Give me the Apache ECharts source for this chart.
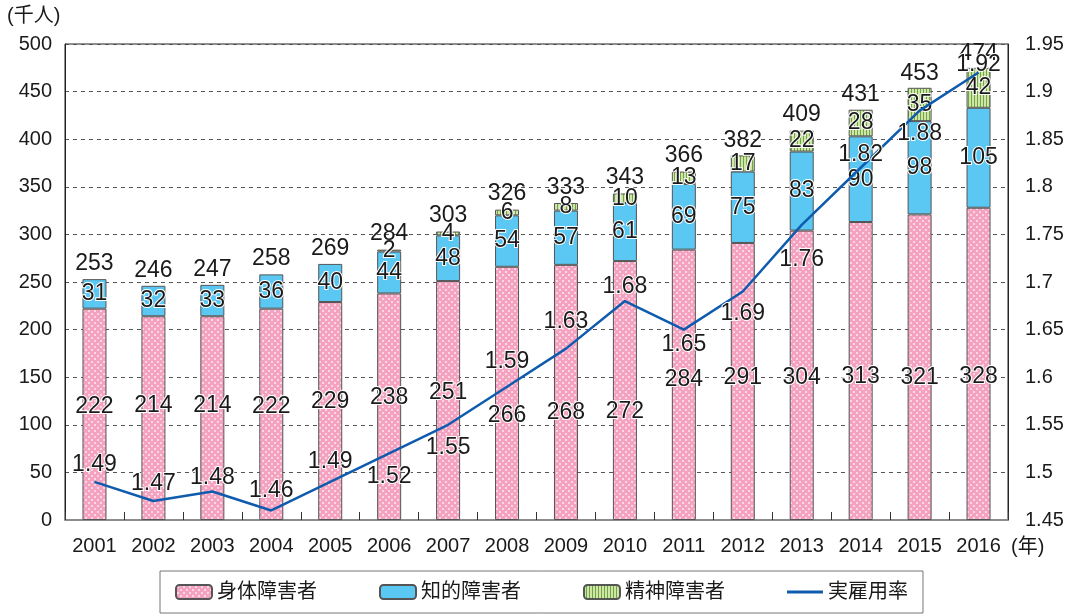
<!DOCTYPE html>
<html>
<head>
<meta charset="utf-8">
<script src="https://cdn.jsdelivr.net/npm/echarts@6/dist/echarts.min.js"></script>
<style>
  html, body { margin: 0; padding: 0; background: #fff; }
  #chart { width: 1078px; height: 615px; }
</style>
</head>
<body>
<div id="chart"></div>
<script>
// 障害者雇用の状況（千人）と実雇用率（％）
const years = ['2001','2002','2003','2004','2005','2006','2007','2008','2009','2010','2011','2012','2013','2014','2015','2016'];
const physical = [222, 214, 214, 222, 229, 238, 251, 266, 268, 272, 284, 291, 304, 313, 321, 328];
const intellectual = [31, 32, 33, 36, 40, 44, 48, 54, 57, 61, 69, 75, 83, 90, 98, 105];
const mental = [0, 0, 0, 0, 0, 2, 4, 6, 8, 10, 13, 17, 22, 28, 35, 42];
const totals = [253, 246, 247, 258, 269, 284, 303, 326, 333, 343, 366, 382, 409, 431, 453, 474];
const rate = [1.49, 1.47, 1.48, 1.46, 1.49, 1.52, 1.55, 1.59, 1.63, 1.68, 1.65, 1.69, 1.76, 1.82, 1.88, 1.92];
const leftTicks = { min: 0, max: 500, step: 50 };
const rightTicks = { min: 1.45, max: 1.95, step: 0.05 };

// vertical nudges (px) that keep value labels clear of the rate line
const rateLabelShift = [-17, -17, -14, -20, -20, 23, 23, -25, -27, -14, 15, 22, 35, -13, 23, -8];
const physicalLabelShift = [-8, -12, -12, -8, -9, -9, -8, 22, 20, 21, -5, -4, 2, 6, 10, 13];

const FONT = '"Liberation Sans", "Noto Sans CJK JP", sans-serif';
const LINE_BLUE = '#0f5cae';
const INK = '#1a1a1a';

function makeTile(w, h, paint) {
  const c = document.createElement('canvas');
  c.width = w; c.height = h;
  paint(c.getContext('2d'));
  return { image: c, repeat: 'repeat' };
}
// pink with light dots
const pinkFill = makeTile(6, 6, g => {
  g.fillStyle = '#f4a2c0'; g.fillRect(0, 0, 6, 6);
  g.fillStyle = '#fdd6e4';
  g.fillRect(1, 1, 2, 2);
  g.fillRect(4, 4, 2, 2);
});
// light green with dark vertical stripes
const greenFill = makeTile(3, 3, g => {
  g.fillStyle = '#cfe6a6'; g.fillRect(0, 0, 3, 3);
  g.fillStyle = '#6fa548'; g.fillRect(2, 0, 1, 3);
});

const barLabel = {
  show: true, position: 'inside', fontSize: 23, fontFamily: FONT, color: INK,
  textBorderColor: '#fff', textBorderWidth: 2
};
const barBorder = { borderColor: '#555', borderWidth: 1 };

const chart = echarts.init(document.getElementById('chart'), null, { renderer: 'canvas' });
chart.setOption({
  animation: false,
  textStyle: { fontFamily: FONT },
  grid: {
    left: 65, right: 70, top: 44, bottom: 95,
    show: true, borderColor: '#222', borderWidth: 1
  },
  legend: {
    data: [
      '身体障害者', '知的障害者', '精神障害者',
      { name: '実雇用率', icon: 'path://M0,0L36,0L36,3L0,3Z', itemStyle: { color: LINE_BLUE } }
    ],
    left: 160, top: 571,
    padding: [11, 15], itemGap: 62,
    itemWidth: 36, itemHeight: 14,
    borderColor: '#777', borderWidth: 1,
    textStyle: { fontSize: 20, color: INK, fontFamily: FONT }
  },
  graphic: [
    { type: 'text', left: 7, top: 6, style: { text: '(千人)', fill: INK, font: '20px ' + FONT } },
    { type: 'text', left: 1011, top: 537, style: { text: '(年)', fill: INK, font: '20px ' + FONT } }
  ],
  xAxis: {
    type: 'category', data: years, boundaryGap: true,
    axisLine: { lineStyle: { color: '#8c8c8c', width: 2 } },
    axisTick: { show: true, inside: true, length: 8, lineStyle: { color: '#333' } },
    axisLabel: { fontSize: 20, color: INK, margin: 16, fontFamily: FONT }
  },
  yAxis: [
    {
      type: 'value', min: leftTicks.min, max: leftTicks.max, interval: leftTicks.step,
      axisLine: { show: true, lineStyle: { color: '#222' } },
      axisTick: { show: false },
      axisLabel: { fontSize: 20, color: INK, margin: 13, fontFamily: FONT },
      splitLine: { show: true, lineStyle: { color: '#555', type: [4, 4], width: 1 } }
    },
    {
      type: 'value', min: rightTicks.min, max: rightTicks.max, interval: rightTicks.step,
      position: 'right',
      axisLine: { show: true, lineStyle: { color: '#222' } },
      axisTick: { show: false },
      splitLine: { show: false },
      axisLabel: {
        fontSize: 20, color: INK, margin: 17, fontFamily: FONT,
        formatter: v => String(parseFloat(v.toFixed(2)))
      }
    }
  ],
  series: [
    {
      name: '身体障害者', type: 'bar', stack: 'total', barWidth: 24,
      data: physical.map((v, i) => ({ value: v, label: { offset: [0, physicalLabelShift[i]] } })),
      itemStyle: Object.assign({ color: pinkFill }, barBorder),
      label: barLabel
    },
    {
      name: '知的障害者', type: 'bar', stack: 'total', barWidth: 24,
      data: intellectual,
      itemStyle: Object.assign({ color: '#5ac8f3' }, barBorder),
      label: barLabel
    },
    {
      name: '精神障害者', type: 'bar', stack: 'total', barWidth: 24,
      data: mental.map(v => (v > 0 ? v : '-')),
      itemStyle: Object.assign({ color: greenFill }, barBorder),
      label: barLabel
    },
    {
      // stack totals written above each bar
      name: '合計', type: 'scatter', data: totals,
      symbol: 'circle', symbolSize: 0, itemStyle: { color: INK, opacity: 1 },
      label: {
        show: true, position: 'top', distance: 4, fontSize: 23, color: INK, fontFamily: FONT
      },
      silent: true, z: 5
    },
    {
      name: '実雇用率', type: 'line', yAxisIndex: 1,
      data: rate,
      symbol: 'none', z: 10,
      lineStyle: { color: LINE_BLUE, width: 2.5 },
      itemStyle: { color: LINE_BLUE }
    },
    {
      // rate values written beside the line
      name: '実雇用率ラベル', type: 'scatter', yAxisIndex: 1,
      data: rate.map((v, i) => ({ value: v, label: { offset: [0, rateLabelShift[i]] } })),
      symbol: 'circle', symbolSize: 0, itemStyle: { color: LINE_BLUE, opacity: 1 },
      label: {
        show: true, position: 'inside', fontSize: 23, color: INK, fontFamily: FONT,
        textBorderColor: '#fff', textBorderWidth: 2,
        formatter: p => p.value.toFixed(2)
      },
      silent: true, z: 12
    }
  ]
});
</script>
</body>
</html>
